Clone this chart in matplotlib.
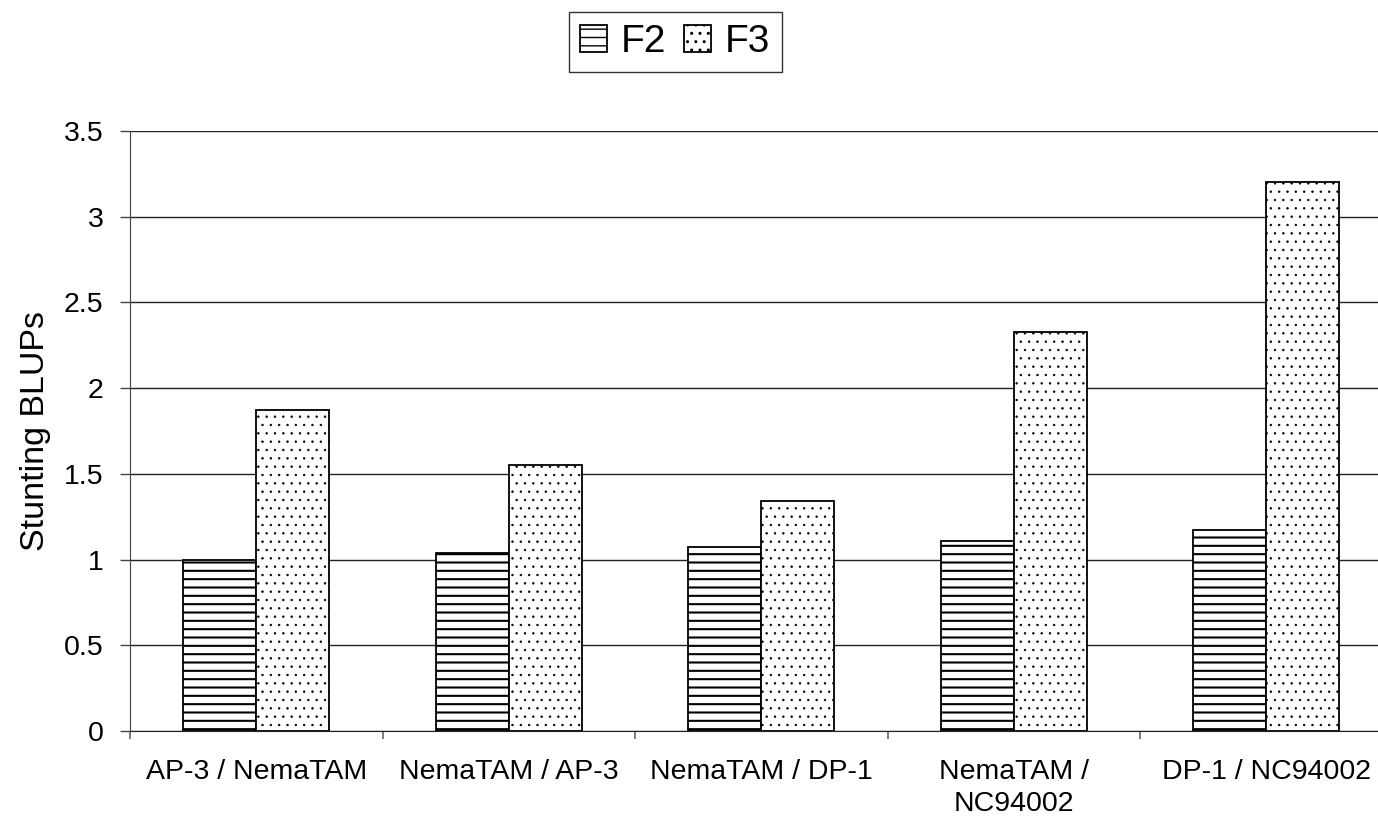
import matplotlib
matplotlib.use("Agg")
import matplotlib.pyplot as plt
import numpy as np

plt.rcParams['font.family'] = ['Liberation Sans', 'DejaVu Sans']

crosses = ['AP-3 / NemaTAM', 'NemaTAM / AP-3', 'NemaTAM / DP-1',
           'NemaTAM /\nNC94002', 'DP-1 / NC94002']
f2 = [1.00, 1.04, 1.075, 1.11, 1.17]
f3 = [1.87, 1.55, 1.34, 2.33, 3.20]
yticks = [0, 0.5, 1, 1.5, 2, 2.5, 3, 3.5]
ytick_labels = ['0', '0.5', '1', '1.5', '2', '2.5', '3', '3.5']

fig = plt.figure(figsize=(13.78, 8.25), dpi=100)
ax = fig.add_axes([130 / 1378, 1 - 731 / 825, 1 - 130 / 1378, 600 / 825])

x = np.arange(len(crosses))
w = 0.289
with plt.rc_context({'hatch.linewidth': 1.5}):
    b2 = ax.bar(x - w / 2, f2, w, color='white', edgecolor='black',
                linewidth=1.3, hatch='--', label='F2', zorder=3)
with plt.rc_context({'hatch.linewidth': 0.5}):
    b3 = ax.bar(x + w / 2, f3, w, color='white', edgecolor='black',
                linewidth=1.3, hatch='..', label='F3', zorder=3)

ax.set_xlim(-0.5, -0.5 + (1378 - 130) / 252.5)
ax.set_ylim(0, 3.5)
ax.set_yticks(yticks)
ax.set_yticklabels(ytick_labels)
ax.yaxis.grid(True, color='#222222', linewidth=1.0, zorder=0)
ax.set_axisbelow(True)

ax.set_xticks(x)
ax.set_xticklabels(crosses, linespacing=1.3)
ax.set_xticks(np.arange(len(crosses)) - 0.5, minor=True)
ax.tick_params(axis='x', which='major', length=0, pad=20, labelsize=20.5)
ax.tick_params(axis='x', which='minor', length=6, width=1.2, color='#666666')
ax.tick_params(axis='y', length=7, width=1.0, color='#444444', pad=12,
               labelsize=20.5)

for s in ['top', 'right']:
    ax.spines[s].set_visible(False)
ax.spines['left'].set_color('#444444')
ax.spines['bottom'].set_color('#222222')

ax.set_ylabel('Stunting BLUPs', fontsize=24.5, labelpad=9)

leg = fig.legend(handles=[b2, b3], loc='center', bbox_to_anchor=(0.49, 0.949),
                 ncol=2, fontsize=28, frameon=True, fancybox=False,
                 edgecolor='black', handlelength=0.7, handleheight=0.7,
                 handletextpad=0.35, columnspacing=0.45, borderpad=0.3,
                 borderaxespad=0)
leg.get_frame().set_linewidth(1.0)

fig.savefig('out.png', dpi=100)
